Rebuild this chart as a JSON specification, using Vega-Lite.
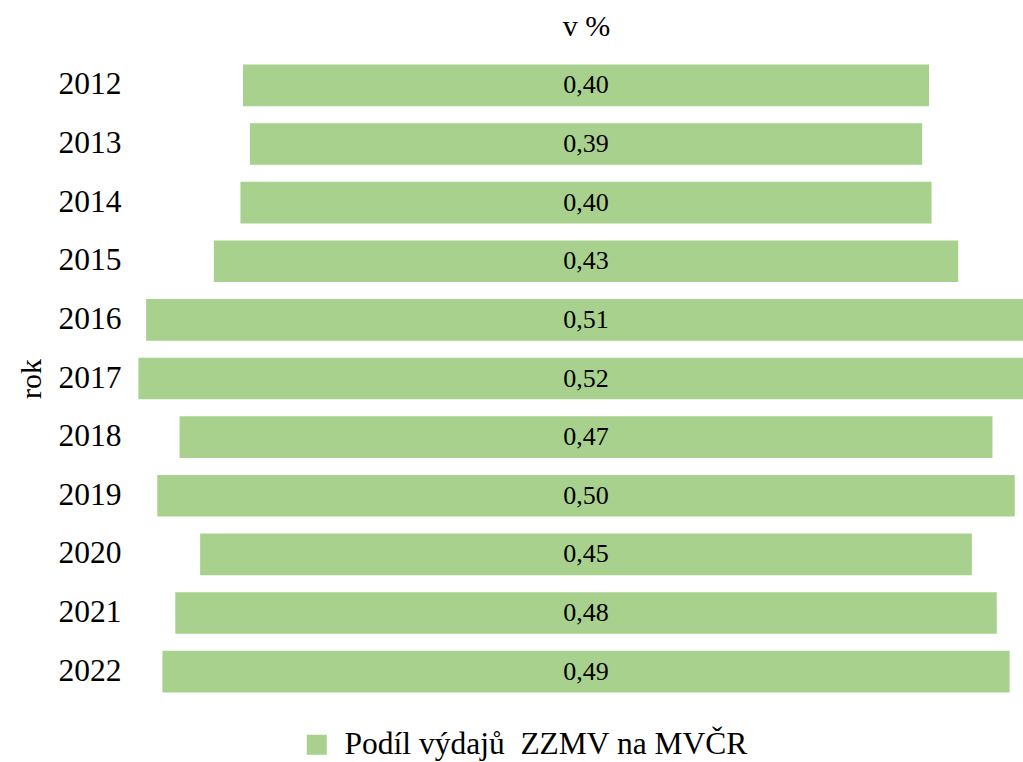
{
  "$schema": "https://vega.github.io/schema/vega-lite/v6.json",
  "width": 893,
  "height": 645,
  "autosize": {"type": "none"},
  "padding": {"left": 130, "top": 56, "right": 0, "bottom": 61},
  "background": "white",
  "config": {
    "locale": {"number": {"decimal": ",", "thousands": " ", "grouping": [3], "currency": ["", " Kč"]}},
    "view": {"stroke": null},
    "font": "Liberation Serif"
  },
  "title": {"text": "v %", "font": "Liberation Serif", "fontSize": 30, "fontWeight": "normal", "color": "#000000", "anchor": "middle", "dx": 10, "offset": 14},
  "data": {
    "values": [
      {"rok": "2012", "podil": 0.400, "serie": "Podíl výdajů \u00a0ZZMV na MVČR"},
      {"rok": "2013", "podil": 0.392, "serie": "Podíl výdajů \u00a0ZZMV na MVČR"},
      {"rok": "2014", "podil": 0.403, "serie": "Podíl výdajů \u00a0ZZMV na MVČR"},
      {"rok": "2015", "podil": 0.434, "serie": "Podíl výdajů \u00a0ZZMV na MVČR"},
      {"rok": "2016", "podil": 0.513, "serie": "Podíl výdajů \u00a0ZZMV na MVČR"},
      {"rok": "2017", "podil": 0.522, "serie": "Podíl výdajů \u00a0ZZMV na MVČR"},
      {"rok": "2018", "podil": 0.474, "serie": "Podíl výdajů \u00a0ZZMV na MVČR"},
      {"rok": "2019", "podil": 0.500, "serie": "Podíl výdajů \u00a0ZZMV na MVČR"},
      {"rok": "2020", "podil": 0.450, "serie": "Podíl výdajů \u00a0ZZMV na MVČR"},
      {"rok": "2021", "podil": 0.479, "serie": "Podíl výdajů \u00a0ZZMV na MVČR"},
      {"rok": "2022", "podil": 0.494, "serie": "Podíl výdajů \u00a0ZZMV na MVČR"}
    ]
  },
  "encoding": {
    "y": {
      "field": "rok", "type": "nominal", "sort": null,
      "scale": {"paddingInner": 0.29, "paddingOuter": 0.145},
      "axis": {
        "title": "rok", "titleFont": "Liberation Serif", "titleFontSize": 30, "titleFontWeight": "normal", "titleColor": "#000000",
        "titlePadding": 12,
        "labelFont": "Liberation Serif", "labelFontSize": 31.5, "labelColor": "#000000", "labelPadding": 9,
        "domain": false, "ticks": false, "grid": false
      }
    }
  },
  "layer": [
    {
      "mark": {"type": "bar", "color": "#a9d18e", "clip": true},
      "encoding": {
        "x": {
          "field": "podil", "type": "quantitative", "stack": "center",
          "scale": {"domain": [-0.0049, 0.5158], "nice": false, "zero": false},
          "axis": null
        },
        "color": {
          "field": "serie", "type": "nominal",
          "scale": {"range": ["#a9d18e"]},
          "legend": {
            "title": null, "orient": "none", "legendX": 171, "legendY": 673,
            "symbolType": "square", "symbolSize": 400, "symbolStrokeWidth": 0,
            "labelFont": "Liberation Serif", "labelFontSize": 31.5, "labelColor": "#000000", "labelLimit": 700, "labelOffset": 12
          }
        }
      }
    },
    {
      "mark": {"type": "text", "font": "Liberation Serif", "fontSize": 26, "color": "#000000", "baseline": "middle", "align": "center"},
      "encoding": {
        "x": {"datum": 0.261, "type": "quantitative"},
        "text": {"field": "podil", "type": "quantitative", "format": ".2f"}
      }
    }
  ]
}
